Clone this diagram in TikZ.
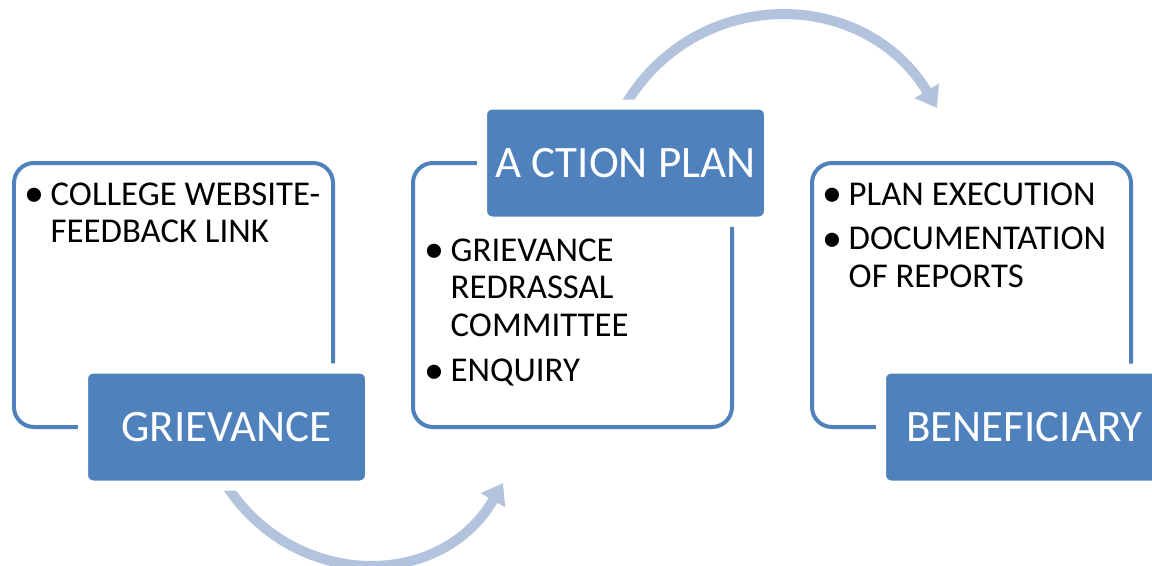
\documentclass[tikz,border=0pt]{standalone}
\usepackage{fontspec}
\setmainfont{Carlito}
\usetikzlibrary{positioning,arrows.meta}
\definecolor{boxblue}{RGB}{79,129,189}
\definecolor{arrowblue}{RGB}{179,195,222}
\newcommand\bul{\hspace*{-0.03cm}\raisebox{-0.05em}{\scalebox{1.15}{\textbullet}}}
\tikzset{
  outline/.style={draw=boxblue, line width=0.04cm, rounded corners=0.2cm,
    minimum width=3.19cm, minimum height=2.64cm, outer sep=0pt},
  head/.style={fill=boxblue, draw=white, line width=0.1cm, rounded corners=0.1cm,
    minimum width=2.87cm, minimum height=1.17cm, outer sep=0pt, inner sep=0pt,
    text=white, font=\fontsize{12.8}{15}\selectfont},
  items/.style={anchor=base west, inner sep=0pt, font=\fontsize{9.9}{10.8}\selectfont},
  cyc/.style={draw=arrowblue, line width=0.1cm, looseness=1.15,
    -{Triangle[width=0.27cm,length=0.2cm]}}
}
\begin{document}
\begin{tikzpicture}
  \useasboundingbox (0,0) rectangle (11.52,5.65);
  \node[outline] (g) at (1.735,2.70) {};
  \node[outline, right=0.8cm of g] (a) {};
  \node[outline, right=0.8cm of a] (b) {};
  \coordinate (lowtip) at (5.03,0.82);
  \coordinate (hightip) at (9.37,4.57);
  \node[head] (ghead) at ([xshift=0.53cm]g.south) {};
  \node[head] (ahead) at ([xshift=0.53cm]a.north) {};
  \draw[cyc] (ghead.south) to[out=-57, in=-120] (lowtip);
  \draw[cyc] (ahead.north) to[out=59, in=121] (hightip);
  \node[head] at (ghead) {GRIEVANCE};
  \node[head] at (ahead) {A CTION PLAN};
  \node[head] (bhead) at ([xshift=0.53cm]b.south) {BENEFICIARY};
  \node[items] (gitems) at ([xshift=0.13cm,yshift=-0.42cm]g.north west)
    {\begin{tabular}[t]{@{}p{0.23cm}@{}l@{}}
      \bul & COLLEGE WEBSITE-\\
      & FEEDBACK LINK
    \end{tabular}};
  \node[items] (aitems) at ([xshift=0.14cm,yshift=-0.98cm]a.north west)
    {\begin{tabular}[t]{@{}p{0.23cm}@{}l@{}}
      \bul & GRIEVANCE\\
      & REDRASSAL\\
      & COMMITTEE\\[2pt]
      \bul & ENQUIRY
    \end{tabular}};
  \node[items] (bitems) at ([xshift=0.13cm,yshift=-0.42cm]b.north west)
    {\begin{tabular}[t]{@{}p{0.23cm}@{}l@{}}
      \bul & PLAN EXECUTION\\[1.8pt]
      \bul & DOCUMENTATION\\
      & OF REPORTS
    \end{tabular}};
\end{tikzpicture}
\end{document}
